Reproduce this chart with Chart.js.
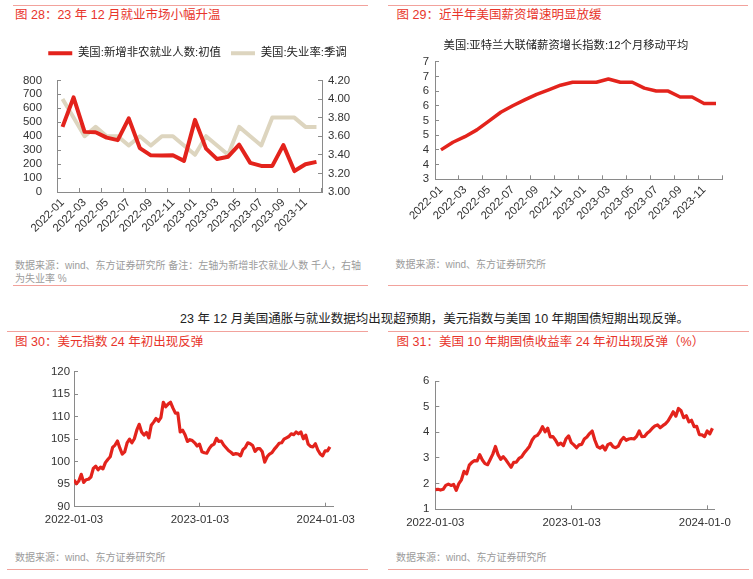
<!DOCTYPE html>
<html>
<head>
<meta charset="utf-8">
<script src="https://cdn.jsdelivr.net/npm/chart.js@4.4.1/dist/chart.umd.min.js"></script>
<style>
html,body{margin:0;padding:0;background:#fff;}
#root{position:relative;width:753px;height:579px;overflow:hidden;font-family:"Liberation Sans","Noto Sans CJK SC",sans-serif;}
.rule{position:absolute;height:1.5px;background:#f2a29c;}
.title{position:absolute;color:#e8352b;font-size:12.5px;line-height:16px;white-space:nowrap;}
.src{position:absolute;color:#9b9b9b;font-size:10px;line-height:13px;white-space:nowrap;}
.body{position:absolute;color:#222;font-size:12.5px;line-height:16px;white-space:nowrap;}
canvas{position:absolute;}
.wrap{position:absolute;overflow:hidden;}
</style>
</head>
<body>
<div id="root">
  <div class="rule" style="left:13px;top:4.5px;width:355px;"></div>
  <div class="rule" style="left:388px;top:4.5px;width:360px;"></div>
  <div class="title" style="left:15px;top:6.7px;">图 28：23 年 12 月就业市场小幅升温</div>
  <div class="title" style="left:396.5px;top:7px;">图 29：近半年美国薪资增速明显放缓</div>

  <canvas id="c1" width="376" height="222" style="left:0;top:30px;width:376px;height:222px;"></canvas>
  <canvas id="c2" width="377" height="222" style="left:376px;top:30px;width:377px;height:222px;"></canvas>

  <div class="src" style="left:15px;top:258.5px;">数据来源：wind、东方证券研究所 备注：左轴为新增非农就业人数 千人，右轴<br>为失业率 %</div>
  <div class="src" style="left:395.5px;top:257.5px;">数据来源：wind、东方证券研究所</div>
  <div class="rule" style="left:13px;top:284.5px;width:355px;"></div>
  <div class="rule" style="left:388px;top:284.5px;width:360px;"></div>

  <div class="body" style="left:180px;top:311px;">23 年 12 月美国通胀与就业数据均出现超预期，美元指数与美国 10 年期国债短期出现反弹。</div>

  <div class="rule" style="left:7px;top:330.5px;width:361px;"></div>
  <div class="rule" style="left:388px;top:330.5px;width:361px;"></div>
  <div class="title" style="left:15px;top:333.7px;">图 30：美元指数 24 年初出现反弹</div>
  <div class="title" style="left:396.5px;top:333.7px;">图 31：美国 10 年期国债收益率 24 年初出现反弹（%）</div>

  <canvas id="c3" width="376" height="190" style="left:0;top:350px;width:376px;height:190px;"></canvas>
  <div class="wrap" style="left:376px;top:350px;width:355px;height:190px;">
    <canvas id="c4" width="377" height="190" style="left:0;top:0;width:377px;height:190px;"></canvas>
  </div>

  <div class="src" style="left:15px;top:550.5px;">数据来源：wind、东方证券研究所</div>
  <div class="src" style="left:396px;top:550.5px;">数据来源：wind、东方证券研究所</div>
  <div class="rule" style="left:7px;top:568.5px;width:361px;"></div>
  <div class="rule" style="left:388px;top:568.5px;width:361px;"></div>
</div>

<script>
// ---------- DATA ----------
const months = ['2022-01','2022-02','2022-03','2022-04','2022-05','2022-06','2022-07','2022-08','2022-09','2022-10','2022-11','2022-12',
                '2023-01','2023-02','2023-03','2023-04','2023-05','2023-06','2023-07','2023-08','2023-09','2023-10','2023-11','2023-12'];
const payrollsLabel = '美国:新增非农就业人数:初值';
const payrolls = [467,678,431,428,390,372,528,315,263,261,263,223,517,311,236,253,339,209,187,187,336,150,199,216];
const unempLabel = '美国:失业率:季调';
const unemp = [4.0,3.8,3.6,3.7,3.6,3.6,3.5,3.6,3.5,3.6,3.6,3.5,3.4,3.6,3.5,3.4,3.7,3.6,3.5,3.8,3.8,3.8,3.7,3.7];

const wageTitle = '美国:亚特兰大联储薪资增长指数:12个月移动平均';
const wage = [4.0,4.26,4.45,4.68,4.98,5.28,5.5,5.7,5.89,6.04,6.2,6.3,6.3,6.3,6.41,6.3,6.3,6.1,6.0,6.0,5.8,5.8,5.58,5.58];

// weekly observations starting on seriesStart
const seriesStart = '2022-01-03';
const dxy = [96.0,95.1,95.7,97.2,95.4,96.0,96.1,96.6,98.5,99.0,98.2,98.8,98.4,99.8,100.5,101.1,103.2,103.7,104.6,103.0,
             101.7,102.2,104.2,105.0,104.2,105.1,107.0,108.3,106.6,105.9,106.5,105.3,108.1,108.8,109.6,109.0,109.8,113.2,112.2,112.8,
             113.2,111.9,110.8,110.8,106.6,107.0,106.0,104.5,104.9,104.7,104.2,103.5,103.9,102.2,102.0,101.9,102.9,103.6,103.9,105.2,
             104.5,104.6,103.7,103.1,102.5,102.1,101.6,101.8,101.7,101.3,102.7,103.2,104.2,104.0,103.6,102.3,102.9,102.9,102.2,99.9,
             101.1,101.7,102.0,102.8,103.4,104.1,104.2,105.0,105.3,105.6,106.2,106.0,106.6,106.2,106.6,105.1,105.9,103.9,103.4,103.3,
             104.0,102.6,101.7,101.3,102.4,102.4,103.3];
const ust10 = [1.77,1.78,1.75,1.78,1.93,1.98,1.93,1.97,1.74,2.00,2.15,2.48,2.38,2.72,2.83,2.90,2.89,3.13,2.92,2.78,
               2.74,2.94,3.15,3.45,3.13,2.95,3.05,2.93,2.78,2.64,2.83,2.84,2.98,3.04,3.20,3.32,3.45,3.69,3.83,3.88,
               4.01,4.22,4.02,4.16,3.82,3.83,3.69,3.51,3.58,3.48,3.75,3.86,3.60,3.51,3.40,3.51,3.53,3.74,3.82,3.95,
               4.05,3.70,3.44,3.38,3.47,3.31,3.52,3.57,3.44,3.40,3.46,3.68,3.80,3.69,3.74,3.76,3.74,3.84,4.05,3.83,
               3.84,3.96,4.04,4.16,4.25,4.29,4.18,4.26,4.33,4.44,4.61,4.80,4.63,4.93,4.84,4.57,4.65,4.41,4.47,4.22,
               4.23,3.91,3.90,3.83,4.05,3.94,4.16];
const dateTickLabels = ['2022-01-03','2023-01-03','2024-01-03'];

// ---------- helpers ----------
const FONT = '"Liberation Sans", "Noto Sans CJK SC", sans-serif';
Chart.defaults.font.family = FONT;
Chart.defaults.font.size = 11.4;
Chart.defaults.color = '#333';
Chart.defaults.animation = false;
const RED = '#e3231c', BEIGE = '#ddd5bf', AX = '#8a8a8a';
const dayOf = s => Math.round((Date.parse(s) - Date.parse(seriesStart)) / 864e5);
const tickDays = dateTickLabels.map(dayOf);
const weekly = arr => arr.map((v, i) => ({x: i * 7, y: v}));
const border = {color: AX, width: 1};
const gridIn = {drawOnChartArea: false, tickLength: -4, color: AX, lineWidth: 1};
const catGrid = {drawOnChartArea: false, offset: true, tickLength: -4, lineWidth: 1,
  color: c => (c.index === undefined || (c.index % 2 === 0 && c.index > 0)) ? AX : 'rgba(0,0,0,0)'};
const catTicks = {autoSkip: false, minRotation: 45, maxRotation: 45, padding: 8,
  callback: (v, i) => i % 2 === 0 ? months[i] : ''};
const base = {responsive: false, devicePixelRatio: 1, animation: false};

// ---------- Chart 1 ----------
new Chart(document.getElementById('c1'), {
  type: 'line',
  data: {labels: months, datasets: [
    {label: payrollsLabel, data: payrolls, yAxisID: 'y', borderColor: RED, backgroundColor: RED, borderWidth: 4,
     pointRadius: 0, tension: 0, borderJoinStyle: 'round'},
    {label: unempLabel, data: unemp, yAxisID: 'y1', borderColor: BEIGE, backgroundColor: BEIGE, borderWidth: 4,
     pointRadius: 0, tension: 0, borderJoinStyle: 'round'}
  ]},
  options: Object.assign({}, base, {
    layout: {padding: {top: 7.5, left: 20, right: 1, bottom: 10}},
    plugins: {
      legend: {display: true, position: 'top', labels: {usePointStyle: true, pointStyle: 'line', pointStyleWidth: 24,
        font: {size: 11.4}, color: '#222', padding: 10}},
      subtitle: {display: true, text: '', weight: 1, padding: 0, font: {size: 11.5, lineHeight: 1}},
      tooltip: {enabled: false}
    },
    scales: {
      x: {type: 'category', offset: true, grid: catGrid, border: border, ticks: catTicks,
          afterFit: s => { s.height = 50; }},
      y: {position: 'left', min: 0, max: 800, grid: gridIn, border: border,
          ticks: {stepSize: 100, padding: 19, autoSkip: false}, afterFit: s => { s.width = 37; }},
      y1: {position: 'right', min: 3, max: 4.2, grid: gridIn, border: border,
          ticks: {stepSize: 0.2, padding: 10, autoSkip: false, callback: v => Number(v).toFixed(2)}, afterFit: s => { s.width = 53; }}
    }
  })
});

// ---------- Chart 2 ----------
new Chart(document.getElementById('c2'), {
  type: 'line',
  data: {labels: months, datasets: [
    {label: wageTitle, data: wage, borderColor: RED, backgroundColor: RED, borderWidth: 3.5,
     pointRadius: 0, tension: 0, borderJoinStyle: 'round'}
  ]},
  options: Object.assign({}, base, {
    layout: {padding: {top: 0, left: 34, right: 31, bottom: 10.7}},
    plugins: {
      legend: {display: false},
      title: {display: true, text: wageTitle, color: '#222', font: {size: 11.3, weight: 'normal', lineHeight: 1.2},
              padding: {top: 9.2, bottom: 8.9}},
      tooltip: {enabled: false}
    },
    scales: {
      x: {type: 'category', offset: true, grid: catGrid, border: border, ticks: catTicks,
          afterFit: s => { s.height = 62; }},
      y: {position: 'left', min: 3, max: 7, grid: gridIn, border: border,
          ticks: {stepSize: 0.5, padding: 10, autoSkip: false, callback: v => Math.round(v)}, afterFit: s => { s.width = 25; }}
    }
  })
});

// ---------- Chart 3 & 4 ----------
function dateChart(id, values, ymin, ymax, ystep, xmax, pad, yWidth, yPad, xPad) {
  return new Chart(document.getElementById(id), {
    type: 'line',
    data: {datasets: [{data: weekly(values), borderColor: RED, backgroundColor: RED, borderWidth: 3.2,
      pointRadius: 0, tension: 0, borderJoinStyle: 'round'}]},
    options: Object.assign({}, base, {
      layout: {padding: pad},
      plugins: {legend: {display: false}, tooltip: {enabled: false}},
      scales: {
        x: {type: 'linear', min: 0, max: xmax, grid: gridIn, border: border,
            afterBuildTicks: s => { s.ticks = tickDays.map(v => ({value: v})); },
            ticks: {maxRotation: 0, minRotation: 0, autoSkip: false, padding: xPad, callback: v => dateTickLabels[tickDays.indexOf(v)] || ''},
            afterFit: s => { s.height = 20; }},
        y: {position: 'left', min: ymin, max: ymax, grid: gridIn, border: border,
            ticks: {stepSize: ystep, padding: yPad, autoSkip: false}, afterFit: s => { s.width = yWidth; }}
      }
    })
  });
}
dateChart('c3', dxy, 90, 120, 5, 751, {top: 21.7, left: 44, right: 43, bottom: 13.3}, 30, 8, 10.4);
dateChart('c4', ust10, 1, 6, 1, 747, {top: 31, left: 35, right: 38.7, bottom: 10.7}, 24.3, 10, 10.5);
</script>
</body>
</html>
